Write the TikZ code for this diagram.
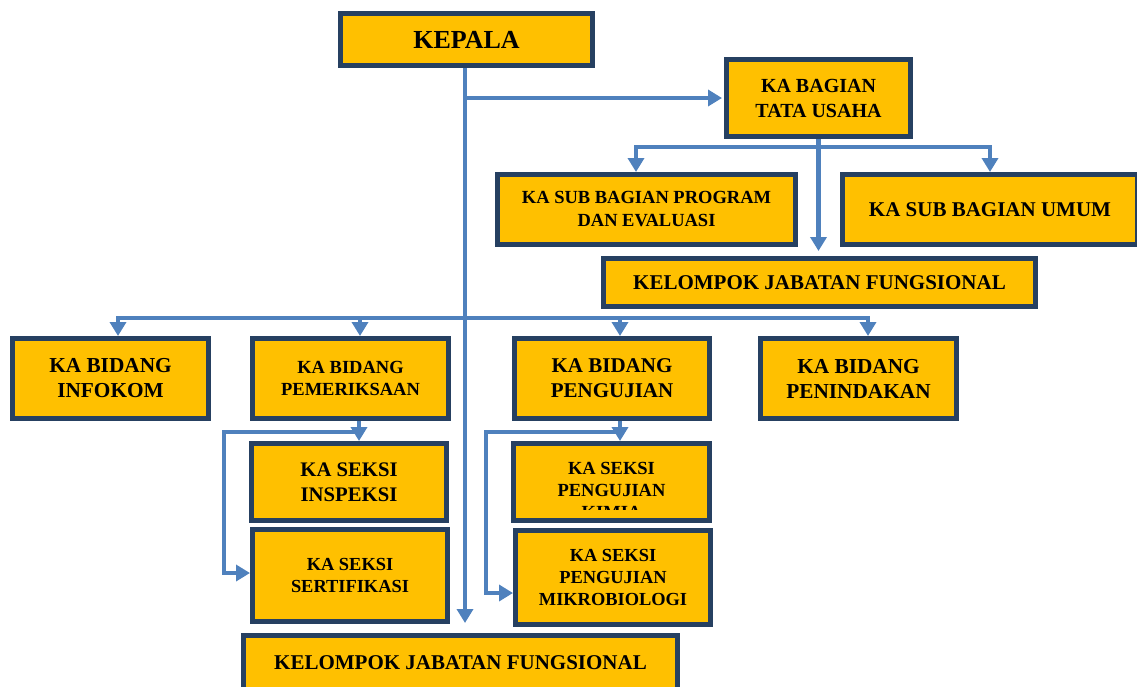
\documentclass[tikz,border=0pt]{standalone}
\usepackage{fontspec}
\setmainfont{Liberation Serif}
\usetikzlibrary{arrows.meta}
\definecolor{boxfill}{HTML}{FFC000}
\definecolor{boxline}{RGB}{38,64,97}
\definecolor{connc}{HTML}{4F81BD}
\begin{document}
\begin{tikzpicture}[x=1pt,y=-1pt,
  box/.style={draw=boxline, line width=5pt, fill=boxfill, inner sep=0pt, align=center},
  fsz/.style 2 args={font=\bfseries\fontsize{#1}{#2}\selectfont},
  conn/.style={draw=connc, line width=4.5pt},
  arr/.style={conn, -{Triangle[width=16pt,length=14pt]}}]
\useasboundingbox (0,0) rectangle (1137,686);

% boxes
\node[box, minimum width=252pt, minimum height=52pt, fsz={26}{31}] (kepala) at (466.5,39.5) {KEPALA};
\node[box, minimum width=184pt, minimum height=77pt, fsz={20}{25}] (bagian) at (818.5,98) {KA BAGIAN\\TATA USAHA};
\node[box, minimum width=298pt, minimum height=70pt, fsz={18.5}{23}] (program) at (646.5,209.5) {KA SUB BAGIAN PROGRAM\\DAN EVALUASI};
\node[box, minimum width=295pt, minimum height=70pt, fsz={21}{25}] (umum) at (990,209.5) {KA SUB BAGIAN UMUM};
\node[box, minimum width=432pt, minimum height=48pt, fsz={21}{25}] (kjf1) at (819.5,282.5) {KELOMPOK JABATAN FUNGSIONAL};

\node[box, minimum width=196pt, minimum height=80pt, fsz={21.3}{25}] (infokom) at (110.5,378.5) {KA BIDANG\\INFOKOM};
\node[box, minimum width=196pt, minimum height=80pt, fsz={18.5}{22}] (pem) at (350.5,378.5) {KA BIDANG\\PEMERIKSAAN};
\node[box, minimum width=195pt, minimum height=80pt, fsz={21}{25}] (peng) at (612,378.5) {KA BIDANG\\PENGUJIAN};
\node[box, minimum width=196pt, minimum height=80pt, fsz={21.3}{25}] (penin) at (858.5,378.5) {KA BIDANG\\PENINDAKAN};

\node[box, minimum width=195pt, minimum height=77pt, fsz={20.7}{25}] (insp) at (349,482) {KA SEKSI\\INSPEKSI};
\node[box, minimum width=195pt, minimum height=92pt, fsz={18.4}{22}] (sert) at (350,575.5) {KA SEKSI\\SERTIFIKASI};
\node[box, minimum width=196pt, minimum height=77pt] (kimia) at (611.5,482) {};
\begin{scope}
  \clip (516,446) rectangle (707,509);
  \node[anchor=north, inner sep=0pt, align=center, fsz={18.5}{22}] (kimiatxt) at (611.5,462) {KA SEKSI\\PENGUJIAN\\KIMIA};
\end{scope}
\node[box, minimum width=195pt, minimum height=94pt, fsz={18.4}{22}] (mikro) at (613,577.5) {KA SEKSI\\PENGUJIAN\\MIKROBIOLOGI};
\node[box, minimum width=434pt, minimum height=54pt, fsz={21}{25}] (kjf2) at (460.5,662.5) {KELOMPOK JABATAN FUNGSIONAL};

% helper coordinates
\coordinate (vx) at (465,0);
\coordinate (h1) at (0,147);
\coordinate (pa) at (636,0);
\coordinate (ua) at (990,0);
\coordinate (hb) at (0,318);
\coordinate (a1) at (118,0);
\coordinate (a2) at (360,0);
\coordinate (a3) at (620,0);
\coordinate (a4) at (868,0);
\coordinate (b1) at (359,0);
\coordinate (b2) at (620,0);
\coordinate (h2) at (0,432);
\coordinate (l1) at (224,0);
\coordinate (l2) at (486,0);
\coordinate (s1) at (0,573);
\coordinate (m1) at (0,593);

% connectors
\draw[arr, shorten >=10pt] (kepala.south -| vx) -- (kjf2.north -| vx);
\draw[arr, shorten >=2pt] (vx |- bagian.west) -- (bagian.west);

\draw[arr, shorten >=5pt] (bagian.south) -- (bagian.south |- kjf1.north);
\draw[arr] (bagian.south |- h1) -| (pa |- program.north);
\draw[arr] (bagian.south |- h1) -| (ua |- umum.north);

\draw[arr] (vx |- hb) -| (a1 |- infokom.north);
\draw[arr] (vx |- hb) -| (a2 |- pem.north);
\draw[arr] (vx |- hb) -| (a3 |- peng.north);
\draw[arr] (vx |- hb) -| (a4 |- penin.north);

\draw[arr] (b1 |- pem.south) -- (b1 |- insp.north);
\draw[arr] (b1 |- h2) -- (l1 |- h2) -- (l1 |- s1) -- (sert.west |- s1);

\draw[arr] (b2 |- peng.south) -- (b2 |- kimia.north);
\draw[arr] (b2 |- h2) -- (l2 |- h2) -- (l2 |- m1) -- (mikro.west |- m1);
\end{tikzpicture}
\end{document}
